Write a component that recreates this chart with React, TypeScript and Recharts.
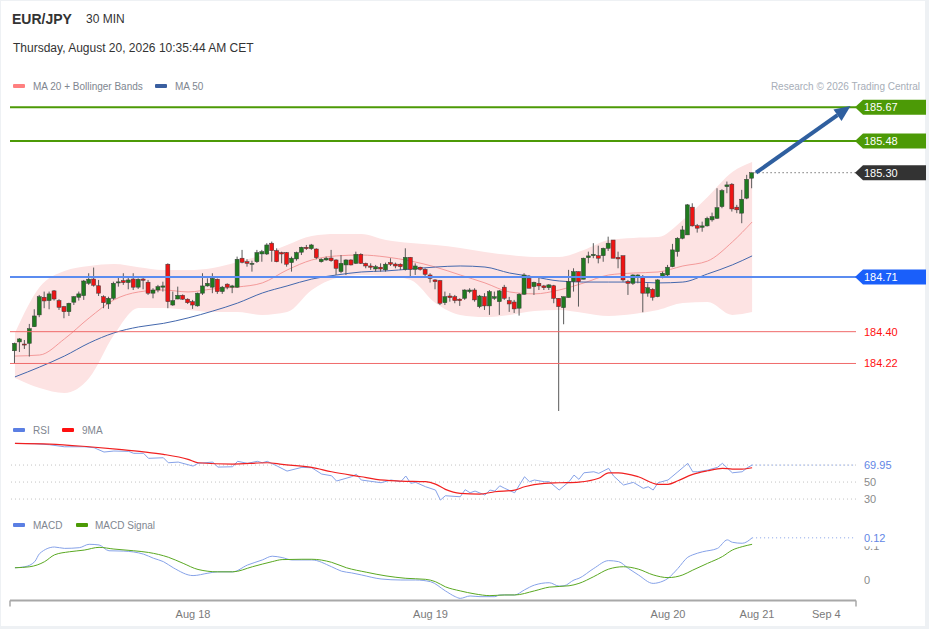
import { Area, Bar, ComposedChart, Line, ReferenceLine, XAxis, YAxis } from "recharts";

// EUR/JPY 30 min chart: candles + MA20/Bollinger + MA50, RSI panel and MACD panel.
// Candle index 0 = Aug 17 06:00, one index per 30 min.

const FONT = '"Liberation Sans", Arial, Helvetica, sans-serif';

const opens = [
  184.292, 184.342, 184.33, 184.334, 184.428, 184.495, 184.595, 184.576, 184.631, 184.576,
  184.542, 184.513, 184.567, 184.595, 184.604, 184.674, 184.698, 184.66, 184.598, 184.557,
  184.589, 184.676, 184.689, 184.678, 184.698, 184.652, 184.698, 184.68, 184.618, 184.636,
  184.652, 184.782, 184.551, 184.585, 184.606, 184.584, 184.57, 184.546, 184.618, 184.659,
  184.652, 184.697, 184.627, 184.669, 184.652, 184.652, 184.816, 184.796, 184.782, 184.796,
  184.84, 184.84, 184.901, 184.859, 184.848, 184.848, 184.791, 184.812, 184.85, 184.878,
  184.87, 184.868, 184.796, 184.806, 184.817, 184.806, 184.74, 184.778, 184.806, 184.787,
  184.838, 184.787, 184.772, 184.755, 184.765, 184.75, 184.791, 184.783, 184.782, 184.753,
  184.821, 184.753, 184.765, 184.753, 184.721, 184.693, 184.689, 184.564, 184.602, 184.598,
  184.584, 184.589, 184.627, 184.636, 184.542, 184.598, 184.546, 184.589, 184.57, 184.652,
  184.576, 184.568, 184.533, 184.612, 184.702, 184.655, 184.674, 184.659, 184.649, 184.66,
  184.589, 184.536, 184.593, 184.683, 184.74, 184.697, 184.819, 184.83, 184.83, 184.83,
  184.872, 184.919, 184.821, 184.83, 184.683, 184.674, 184.706, 184.712, 184.618, 184.64,
  184.598, 184.708, 184.721, 184.768, 184.853, 184.929, 184.948, 185.105, 185.0, 184.991,
  184.999, 185.033, 185.042, 185.108, 185.221, 185.235, 185.105, 185.071, 185.156, 185.269,
];
const highs = [
  184.338, 184.364, 184.353, 184.444, 184.527, 184.608, 184.627, 184.627, 184.636, 184.584,
  184.546, 184.564, 184.602, 184.627, 184.693, 184.731, 184.763, 184.693, 184.606, 184.598,
  184.683, 184.712, 184.731, 184.712, 184.731, 184.702, 184.709, 184.693, 184.646, 184.665,
  184.683, 184.787, 184.627, 184.655, 184.611, 184.589, 184.58, 184.621, 184.731, 184.702,
  184.731, 184.701, 184.659, 184.674, 184.665, 184.825, 184.863, 184.81, 184.802, 184.863,
  184.863, 184.901, 184.91, 184.872, 184.853, 184.851, 184.825, 184.853, 184.881, 184.891,
  184.897, 184.872, 184.816, 184.825, 184.863, 184.81, 184.834, 184.81, 184.81, 184.853,
  184.844, 184.791, 184.787, 184.778, 184.787, 184.791, 184.816, 184.791, 184.787, 184.872,
  184.823, 184.787, 184.768, 184.759, 184.731, 184.697, 184.693, 184.627, 184.618, 184.608,
  184.589, 184.64, 184.646, 184.646, 184.608, 184.618, 184.636, 184.627, 184.636, 184.665,
  184.597, 184.58, 184.618, 184.731, 184.721, 184.683, 184.706, 184.665, 184.669, 184.665,
  184.589, 184.598, 184.75, 184.759, 184.74, 184.819, 184.853, 184.901, 184.887, 184.876,
  184.938, 184.919, 184.853, 184.83, 184.693, 184.725, 184.725, 184.721, 184.674, 184.646,
  184.697, 184.74, 184.778, 184.897, 184.935, 184.999, 185.123, 185.127, 185.01, 185.023,
  185.051, 185.074, 185.212, 185.207, 185.25, 185.241, 185.118, 185.203, 185.288, 185.3,
];
const lows = [
  184.221, 184.285, 184.302, 184.259, 184.427, 184.482, 184.533, 184.527, 184.576, 184.523,
  184.476, 184.489, 184.551, 184.576, 184.58, 184.665, 184.655, 184.602, 184.533, 184.529,
  184.58, 184.655, 184.665, 184.64, 184.636, 184.642, 184.64, 184.608, 184.589, 184.623,
  184.627, 184.533, 184.546, 184.584, 184.58, 184.557, 184.529, 184.542, 184.608, 184.655,
  184.618, 184.614, 184.614, 184.64, 184.618, 184.648, 184.787, 184.768, 184.74, 184.789,
  184.796, 184.834, 184.796, 184.793, 184.787, 184.768, 184.74, 184.802, 184.834, 184.863,
  184.863, 184.81, 184.791, 184.802, 184.796, 184.721, 184.731, 184.721, 184.775, 184.783,
  184.783, 184.759, 184.75, 184.74, 184.74, 184.74, 184.772, 184.759, 184.75, 184.746,
  184.712, 184.721, 184.746, 184.712, 184.678, 184.64, 184.551, 184.551, 184.57, 184.561,
  184.546, 184.58, 184.618, 184.57, 184.533, 184.523, 184.495, 184.58, 184.495, 184.58,
  184.512, 184.506, 184.491, 184.608, 184.646, 184.608, 184.636, 184.636, 184.636, 184.561,
  183.951, 184.442, 184.593, 184.627, 184.542, 184.697, 184.787, 184.816, 184.787, 184.796,
  184.857, 184.816, 184.759, 184.683, 184.608, 184.665, 184.674, 184.51, 184.598, 184.576,
  184.595, 184.702, 184.712, 184.765, 184.825, 184.923, 184.948, 184.995, 184.961, 184.966,
  184.995, 185.023, 185.038, 185.099, 185.184, 185.08, 185.071, 185.014, 185.15, 185.212,
];
const closes = [
  184.334, 184.359, 184.325, 184.417, 184.489, 184.598, 184.574, 184.614, 184.585, 184.538,
  184.513, 184.561, 184.598, 184.614, 184.687, 184.697, 184.663, 184.618, 184.564, 184.589,
  184.674, 184.682, 184.678, 184.693, 184.652, 184.697, 184.691, 184.618, 184.636, 184.655,
  184.659, 184.57, 184.576, 184.606, 184.584, 184.564, 184.551, 184.618, 184.659, 184.674,
  184.702, 184.627, 184.652, 184.652, 184.659, 184.81, 184.793, 184.787, 184.787, 184.848,
  184.853, 184.891, 184.859, 184.796, 184.84, 184.782, 184.816, 184.848, 184.878, 184.87,
  184.891, 184.819, 184.81, 184.816, 184.802, 184.759, 184.787, 184.806, 184.778, 184.838,
  184.787, 184.772, 184.765, 184.768, 184.755, 184.782, 184.782, 184.772, 184.768, 184.821,
  184.753, 184.772, 184.753, 184.725, 184.702, 184.683, 184.561, 184.598, 184.593, 184.576,
  184.576, 184.636, 184.636, 184.58, 184.602, 184.546, 184.627, 184.598, 184.631, 184.589,
  184.557, 184.529, 184.612, 184.721, 184.646, 184.68, 184.659, 184.649, 184.665, 184.589,
  184.542, 184.598, 184.683, 184.74, 184.683, 184.816, 184.829, 184.838, 184.816, 184.872,
  184.901, 184.816, 184.812, 184.693, 184.674, 184.721, 184.721, 184.618, 184.649, 184.595,
  184.693, 184.731, 184.765, 184.863, 184.929, 184.976, 185.118, 184.999, 184.986, 184.999,
  185.042, 185.051, 185.102, 185.199, 185.231, 185.095, 185.09, 185.15, 185.263, 185.3,
];

// moving averages and bands, read every 5 candles
const overlayIdx = [
  0, 5, 10, 15, 20, 25, 30, 35, 40, 45, 50, 55, 60, 65, 70, 75, 80, 85, 90, 95,
  100, 105, 110, 115, 120, 125, 130, 135, 140, 145, 149,
];
const ma20 = [
  184.262, 184.268, 184.359, 184.478, 184.58, 184.625, 184.636, 184.625, 184.642, 184.653,
  184.676, 184.749, 184.806, 184.829, 184.834, 184.823, 184.8, 184.766, 184.721, 184.676,
  184.625, 184.614, 184.636, 184.676, 184.721, 184.732, 184.738, 184.772, 184.8, 184.908, 185.021,
];
const ma50 = [
  184.144, 184.2, 184.262, 184.336, 184.393, 184.427, 184.447, 184.478, 184.517, 184.562,
  184.619, 184.659, 184.698, 184.721, 184.738, 184.744, 184.755, 184.766, 184.772, 184.766,
  184.732, 184.71, 184.687, 184.681, 184.681, 184.681, 184.676, 184.681, 184.727, 184.778, 184.829,
];
const bbUpper = [
  184.393, 184.653, 184.744, 184.772, 184.783, 184.765, 184.749, 184.749, 184.761, 184.795,
  184.834, 184.891, 184.942, 184.953, 184.953, 184.919, 184.902, 184.891, 184.874, 184.851,
  184.834, 184.823, 184.823, 184.863, 184.919, 184.931, 184.936, 185.033, 185.163, 185.304, 185.361,
];
const bbLower = [
  184.138, 184.081, 184.053, 184.138, 184.381, 184.534, 184.534, 184.523, 184.511, 184.511,
  184.495, 184.511, 184.636, 184.704, 184.721, 184.715, 184.693, 184.562, 184.495, 184.483,
  184.495, 184.517, 184.523, 184.506, 184.489, 184.5, 184.523, 184.562, 184.568, 184.495, 184.511,
];

const rsiIdx = [
  0, 4, 7, 10, 14, 16, 18, 20, 23, 24, 26, 27, 30, 31, 33, 36, 37, 40, 41, 44,
  45, 47, 49, 50, 51, 53, 55, 58, 60, 62, 64, 65, 68, 69, 70, 74, 76, 78, 79, 80,
  81, 83, 85, 86, 87, 90, 91, 92, 93, 95, 96, 97, 98, 99, 101, 103, 104, 105, 107, 108,
  110, 112, 113, 114, 115, 117, 118, 120, 121, 123, 125, 127, 128, 129, 130, 132, 134, 136, 137, 138,
  140, 142, 143, 145, 147, 148, 149,
];
const rsiVals = [
  95.5, 95.1, 93.9, 91.5, 91.5, 90.4, 85.3, 86.5, 86.1, 83.8, 83.8, 77.9, 78.6, 72.7, 73.5, 68.8, 72, 73.5, 67.6, 68,
  74.4, 72, 74.4, 72.7, 74.4, 68.8, 62.9, 67.3, 66.8, 59.4, 57.4, 51.2, 56.2, 59.1, 52.4, 49.2, 52.4, 50.4, 57.1, 48.5,
  49.6, 44.5, 40.6, 28.8, 33.9, 32.7, 41, 37.4, 39.4, 34.7, 40.6, 39.4, 45.6, 42.6, 37.4, 56.2, 50.4, 52.4, 50.4, 50.4,
  40.6, 50.4, 58.2, 53.2, 60.9, 62.1, 60.2, 66.1, 57.1, 46.5, 49.6, 42.6, 44.5, 40.6, 49.2, 52.4, 62.1, 72, 62.1, 62.1,
  64.1, 67.3, 72, 60.9, 62.1, 66.8, 69.95,
];
const rsiMaIdx = [
  0, 7, 15, 21, 26, 30, 35, 37, 44, 51, 54, 60, 64, 70, 73, 78, 83, 85, 87, 90,
  94, 97, 101, 103, 107, 110, 114, 118, 120, 122, 126, 130, 132, 134, 137, 140, 143, 145, 147, 149,
];
const rsiMaVals = [
  95.5, 94.7, 91.5, 88.5, 85.6, 82.6, 76.7, 72.7, 71.2, 72.7, 70.8, 67.3, 62.1, 56.2, 53.2, 51.2, 50.4, 47.6, 41.4, 36.7,
  35.9, 38.6, 40.6, 44.5, 48.5, 49.2, 50, 54.4, 60.9, 60.9, 56.2, 47.3, 47.3, 51.5, 59.1, 63.3, 66.1, 65.3, 65.3, 66.8,
];

const macdIdx = [
  0, 2, 4, 5, 8, 10, 13, 15, 17, 19, 22, 26, 28, 30, 32, 36, 39, 41, 44, 47,
  50, 52, 54, 56, 60, 64, 66, 68, 70, 74, 78, 81, 84, 87, 89, 90, 92, 94, 97, 98,
  101, 103, 105, 108, 110, 111, 113, 114, 117, 120, 122, 124, 126, 129, 130, 132, 134, 136, 137, 139,
  142, 144, 145, 147, 149,
];
const macdVals = [
  0.036, 0.039, 0.054, 0.078, 0.097, 0.093, 0.095, 0.105, 0.103, 0.086, 0.085, 0.076, 0.064, 0.054, 0.036, 0.013, 0.02, 0.024, 0.024, 0.044,
  0.059, 0.07, 0.066, 0.059, 0.059, 0.039, 0.026, 0.021, 0.015, 0.003, 0, 0, -0.005, -0.032, -0.049, -0.054, -0.047, -0.049, -0.049, -0.044,
  -0.044, -0.029, -0.015, -0.008, -0.018, -0.017, 0, 0.005, 0.034, 0.057, 0.054, 0.034, 0.015, -0.01, -0.008, 0.005, 0.034, 0.067, 0.074, 0.083,
  0.093, 0.118, 0.111, 0.108, 0.124,
];
const signalIdx = [
  0, 3, 6, 8, 11, 14, 17, 20, 24, 27, 31, 34, 37, 41, 44, 48, 52, 54, 58, 60,
  64, 67, 71, 75, 79, 83, 85, 87, 90, 93, 96, 99, 101, 105, 108, 112, 114, 117, 120, 123,
  126, 129, 132, 135, 137, 140, 143, 145, 147, 149,
];
const signalVals = [
  0.036, 0.039, 0.054, 0.074, 0.083, 0.088, 0.096, 0.091, 0.086, 0.081, 0.067, 0.049, 0.031, 0.024, 0.024, 0.039, 0.054, 0.06, 0.061, 0.061,
  0.052, 0.036, 0.023, 0.012, 0.005, 0.002, -0.005, -0.02, -0.032, -0.041, -0.046, -0.044, -0.044, -0.032, -0.021, -0.017, -0.01, 0.01, 0.032, 0.039,
  0.032, 0.015, 0.007, 0.015, 0.029, 0.049, 0.069, 0.088, 0.098, 0.105,
];

const dateTicks = [36, 84, 132, 150, 164];
const dateLabels = ["Aug 18", "Aug 19", "Aug 20", "Aug 21", "Sep 4"];

const resistances = [185.67, 185.48];
const pivot = 184.71;
const supports = [184.4, 184.22];
const lastPrice = 185.3;
const targetPrice = 185.67;

const X_DOMAIN: [number, number] = [-1, 170];
const PRICE_DOMAIN: [number, number] = [183.9, 185.74];
const W = 929;

const GREEN = "#4c9a06";
const UP = "#1f7a1f";
const DOWN = "#ee1414";

const candles = opens.map((o, i) => ({
  i,
  o,
  h: highs[i],
  l: lows[i],
  c: closes[i],
  range: [lows[i], highs[i]],
}));
const overlays = overlayIdx.map((i, k) => ({
  i,
  ma20: ma20[k],
  ma50: ma50[k],
  band: [bbLower[k], bbUpper[k]],
}));

function merge(series: Record<string, [number[], number[]]>) {
  const rows: any[] = opens.map((_, i) => ({ i }));
  for (const [key, [idx, vals]] of Object.entries(series)) {
    idx.forEach((i, k) => {
      rows[i][key] = vals[k];
    });
  }
  return rows;
}
const rsiRows = merge({ rsi: [rsiIdx, rsiVals], ma: [rsiMaIdx, rsiMaVals] });
const macdRows = merge({ macd: [macdIdx, macdVals], signal: [signalIdx, signalVals] });

const lastRsi = rsiVals[rsiVals.length - 1];
const lastMacd = macdVals[macdVals.length - 1];

function Candle(props: any) {
  const { x, y, width, height, payload } = props;
  const { o, h, l, c } = payload;
  const top = Math.min(y, y + height);
  const span = Math.abs(height);
  const px = (v: number) => (h === l ? top : top + ((h - v) / (h - l)) * span);
  const cx = x + width / 2;
  const bTop = px(Math.max(o, c));
  const bBot = px(Math.min(o, c));
  return (
    <g>
      <line x1={cx} x2={cx} y1={top} y2={top + span} stroke="#5a5a5a" strokeWidth={1} />
      <rect
        x={cx - 2}
        y={bTop}
        width={4}
        height={Math.max(1, bBot - bTop)}
        fill={c >= o ? UP : DOWN}
        stroke="#3a3a3a"
        strokeWidth={0.5}
      />
    </g>
  );
}

function Tag({ viewBox, text, bg }: any) {
  const x = viewBox.x + viewBox.width - 1;
  const y = viewBox.y;
  return (
    <g>
      <polygon
        points={`${x},${y} ${x + 8},${y - 7.5} ${x + 71},${y - 7.5} ${x + 71},${y + 7.5} ${x + 8},${y + 7.5}`}
        fill={bg}
      />
      <text x={x + 9} y={y} dy="0.36em" fill="#fff" fontSize={11} fontFamily={FONT}>
        {text}
      </text>
    </g>
  );
}

function SideText({ viewBox, text, color, clear }: any) {
  const x = viewBox.x + viewBox.width + 8;
  const y = viewBox.y;
  return (
    <g>
      {clear && <rect x={x - 1} y={y - 7} width={30} height={15.5} fill="#fff" />}
      <text x={x} y={y} dy="0.36em" fill={color} fontSize={11} fontFamily={FONT}>
        {text}
      </text>
    </g>
  );
}

function Arrow(props: any) {
  const { x1, y1, x2, y2 } = props;
  const a = Math.atan2(y2 - y1, x2 - x1);
  const len = 16;
  const half = 7;
  const bx = x2 - len * Math.cos(a);
  const by = y2 - len * Math.sin(a);
  const nx = -Math.sin(a);
  const ny = Math.cos(a);
  return (
    <g>
      <line x1={x1} y1={y1} x2={bx} y2={by} stroke="#2f5f9f" strokeWidth={4} />
      <polygon
        points={`${x2},${y2} ${bx + nx * half},${by + ny * half} ${bx - nx * half},${by - ny * half}`}
        fill="#2f5f9f"
      />
    </g>
  );
}

// date labels, plus the short marks at both ends of the time axis
function DateTick({ x, y, payload }: any) {
  const k = dateTicks.indexOf(payload.value);
  if (k < 0) return <line x1={x} x2={x} y1={y - 10} y2={y - 4} stroke="#a8a8a8" strokeWidth={1.5} />;
  return (
    <text x={x} y={y} dy="0.71em" textAnchor="middle" fill="#7a7a7a" fontSize={11} fontFamily={FONT}>
      {dateLabels[k]}
    </text>
  );
}

function Txt({ x, y, size, color, bold, right, children }: any) {
  return (
    <div
      style={{
        position: "absolute",
        left: right ? undefined : x,
        right: right ? W - x : undefined,
        top: y,
        fontSize: size,
        lineHeight: `${size}px`,
        color,
        fontWeight: bold ? 700 : 400,
        whiteSpace: "nowrap",
      }}
    >
      {children}
    </div>
  );
}

function Swatch({ x, y, color }: any) {
  return (
    <div
      style={{ position: "absolute", left: x, top: y, width: 12, height: 4, borderRadius: 1, background: color }}
    />
  );
}

const hiddenX = <XAxis dataKey="i" type="number" domain={X_DOMAIN} allowDataOverflow hide />;

export default function App() {
  const priceMargin = { top: 95, right: 73, bottom: 5, left: 10 };
  return (
    <div
      style={{
        position: "absolute",
        left: 0,
        top: 0,
        width: W,
        height: 629,
        background: "#eef1f4",
        fontFamily: FONT,
        overflow: "hidden",
      }}
    >
      <div style={{ position: "absolute", left: 1, top: 1, width: 924, height: 625, background: "#fff" }} />

      <Txt x={12} y={12} size={14} color="#333" bold>
        EUR/JPY
      </Txt>
      <Txt x={86} y={13} size={12} color="#333">
        30 MIN
      </Txt>
      <Txt x={13} y={42} size={12} color="#333">
        Thursday, August 20, 2026 10:35:44 AM CET
      </Txt>
      <Swatch x={13} y={84} color="#ff8080" />
      <Txt x={33} y={81.5} size={10} color="#80868f">
        MA 20 + Bollinger Bands
      </Txt>
      <Swatch x={155} y={84} color="#3a5fa0" />
      <Txt x={175} y={81.5} size={10} color="#80868f">
        MA 50
      </Txt>
      <Txt x={920} y={81.5} size={10} color="#a7aeb8" right>
        Research © 2026 Trading Central
      </Txt>

      {/* price panel: bands and averages underneath */}
      <div style={{ position: "absolute", left: 0, top: 0 }}>
        <ComposedChart width={W} height={425} data={overlays} margin={priceMargin}>
          {hiddenX}
          <YAxis domain={PRICE_DOMAIN} allowDataOverflow hide />
          <Area
            type="monotone"
            dataKey="band"
            stroke="none"
            fill="#fde3e3"
            fillOpacity={1}
            isAnimationActive={false}
          />
          <Line type="monotone" dataKey="ma20" stroke="#f49a9a" strokeWidth={1} dot={false} isAnimationActive={false} />
          <Line type="monotone" dataKey="ma50" stroke="#4468ad" strokeWidth={1} dot={false} isAnimationActive={false} />
        </ComposedChart>
      </div>

      {/* price panel: candles and levels */}
      <div style={{ position: "absolute", left: 0, top: 0 }}>
        <ComposedChart width={W} height={425} data={candles} margin={priceMargin}>
          {hiddenX}
          <YAxis domain={PRICE_DOMAIN} allowDataOverflow hide />
          {supports.map((v) => (
            <ReferenceLine
              key={v}
              y={v}
              stroke="#f06a6a"
              strokeWidth={1}
              label={(p: any) => <SideText viewBox={p.viewBox} text={v.toFixed(2)} color="#ff1010" />}
            />
          ))}
          <Bar dataKey="range" barSize={4} shape={Candle} isAnimationActive={false} />
          <ReferenceLine
            y={pivot}
            stroke="#5b8cf0"
            strokeWidth={2}
            label={(p: any) => <Tag viewBox={p.viewBox} text={pivot.toFixed(2)} bg="#1a5ffa" />}
          />
          {resistances.map((v) => (
            <ReferenceLine
              key={v}
              y={v}
              stroke={GREEN}
              strokeWidth={2}
              label={(p: any) => <Tag viewBox={p.viewBox} text={v.toFixed(2)} bg={GREEN} />}
            />
          ))}
          <ReferenceLine
            segment={[
              { x: 149.5, y: lastPrice },
              { x: X_DOMAIN[1], y: lastPrice },
            ]}
            stroke="#333"
            strokeDasharray="1 3"
            label={(p: any) => <Tag viewBox={p.viewBox} text={lastPrice.toFixed(2)} bg="#333" />}
          />
          <ReferenceLine
            segment={[
              { x: 149.8, y: lastPrice },
              { x: 168.9, y: targetPrice + 0.008 },
            ]}
            ifOverflow="visible"
            shape={Arrow}
          />
        </ComposedChart>
      </div>

      {/* RSI panel */}
      <Swatch x={13} y={428} color="#5b7fe3" />
      <Txt x={33} y={425.5} size={10} color="#80868f">
        RSI
      </Txt>
      <Swatch x={62} y={428} color="#ff1010" />
      <Txt x={82} y={425.5} size={10} color="#80868f">
        9MA
      </Txt>
      <div style={{ position: "absolute", left: 0, top: 430 }}>
        <ComposedChart width={W} height={80} data={rsiRows} margin={{ top: 7, right: 0, bottom: 5, left: 10 }}>
          {hiddenX}
          <YAxis
            orientation="right"
            domain={[23, 103]}
            ticks={[30, 50]}
            width={73}
            axisLine={false}
            tickLine={false}
            tick={{ fill: "#8a8a8a", fontSize: 11, fontFamily: FONT }}
            allowDataOverflow
          />
          {[70, 50, 30].map((v) => (
            <ReferenceLine key={v} y={v} stroke="#c4c4c4" strokeDasharray="1 3" />
          ))}
          <Line type="linear" dataKey="rsi" stroke="#86a2e8" strokeWidth={1} dot={false} connectNulls isAnimationActive={false} />
          <Line type="monotone" dataKey="ma" stroke="#f02020" strokeWidth={1.2} dot={false} connectNulls isAnimationActive={false} />
          <ReferenceLine
            segment={[
              { x: 149, y: lastRsi },
              { x: X_DOMAIN[1], y: lastRsi },
            ]}
            stroke="#86a2e8"
            strokeDasharray="1 3"
            label={(p: any) => <SideText viewBox={p.viewBox} text={lastRsi.toFixed(2)} color="#6286e6" />}
          />
        </ComposedChart>
      </div>

      {/* MACD panel */}
      <Swatch x={13} y={523} color="#5b7fe3" />
      <Txt x={33} y={520.5} size={10} color="#80868f">
        MACD
      </Txt>
      <Swatch x={76} y={523} color="#4c9a06" />
      <Txt x={95} y={520.5} size={10} color="#80868f">
        MACD Signal
      </Txt>
      <div style={{ position: "absolute", left: 0, top: 520 }}>
        <ComposedChart width={W} height={109} data={macdRows} margin={{ top: 12.4, right: 0, bottom: 4.6, left: 10 }}>
          <XAxis
            dataKey="i"
            type="number"
            domain={X_DOMAIN}
            allowDataOverflow
            ticks={[X_DOMAIN[0], ...dateTicks, X_DOMAIN[1]]}
            interval={0}
            axisLine={{ stroke: "#a8a8a8", strokeWidth: 2 }}
            tickLine={false}
            tickMargin={4}
            height={24}
            tick={DateTick}
          />
          <YAxis
            orientation="right"
            domain={[-0.06, 0.14]}
            ticks={[0]}
            width={73}
            axisLine={false}
            tickLine={false}
            tick={{ fill: "#8a8a8a", fontSize: 11, fontFamily: FONT }}
            allowDataOverflow
          />
          <Line type="monotone" dataKey="macd" stroke="#86a2e8" strokeWidth={1} dot={false} connectNulls isAnimationActive={false} />
          <Line type="monotone" dataKey="signal" stroke="#5aa822" strokeWidth={1} dot={false} connectNulls isAnimationActive={false} />
          {/* the 0.1 axis label sits mostly hidden under the last-value label */}
          <ReferenceLine
            y={0.1}
            stroke="none"
            label={(p: any) => <SideText viewBox={p.viewBox} text="0.1" color="#8a8a8a" />}
          />
          <ReferenceLine
            segment={[
              { x: 149, y: lastMacd },
              { x: X_DOMAIN[1], y: lastMacd },
            ]}
            stroke="#86a2e8"
            strokeDasharray="1 3"
            label={(p: any) => <SideText viewBox={p.viewBox} text={lastMacd.toFixed(2)} color="#6286e6" clear />}
          />
        </ComposedChart>
      </div>
    </div>
  );
}
